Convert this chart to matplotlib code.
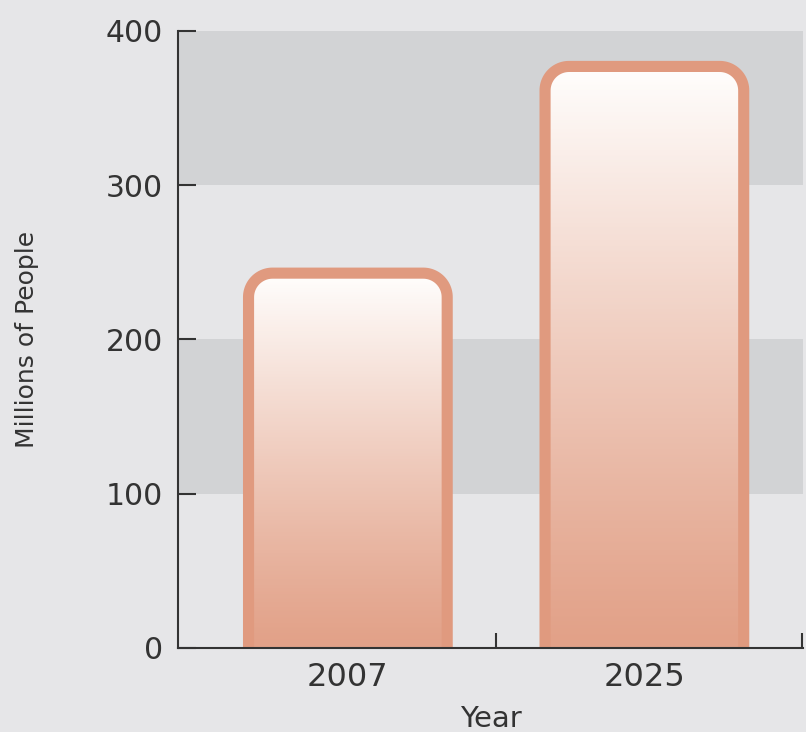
import numpy as np
import matplotlib
matplotlib.use('Agg')
import matplotlib.pyplot as plt
from matplotlib.path import Path
from matplotlib.patches import PathPatch
from matplotlib.colors import LinearSegmentedColormap

# data
years = ['2007', '2025']
people = [243, 377]  # millions of people
y_ticks = [0, 100, 200, 300, 400]
band_ranges = [(100, 200), (300, 400)]

# colours
bg = '#e6e6e8'
band = '#d2d3d5'
edge = '#e09a7f'
top_col = '#fffefd'
bottom_col = '#e2a188'
axis_col = '#333333'


def bar_path(xc, w, h, rx, ry):
    # bar outline with rounded top corners, open at the bottom
    x0, x1 = xc - w / 2, xc + w / 2
    t = np.linspace(0, np.pi / 2, 24)
    left = [(x0 + rx - rx * np.cos(a), h - ry + ry * np.sin(a)) for a in t]
    right = [(x1 - rx + rx * np.sin(a), h - ry + ry * np.cos(a)) for a in t]
    return [(x0, 0)] + left + right + [(x1, 0)]


fig = plt.figure(figsize=(8.06, 7.32), dpi=100, facecolor=bg)
ax = fig.add_axes([0.2208, 0.1148, 0.7755, 0.8429])
ax.set_facecolor(bg)

# alternating grey bands
for lo, hi in band_ranges:
    ax.axhspan(lo, hi, color=band, lw=0, zorder=0)

ax.set_xlim(-0.573, 1.535)
ax.set_ylim(0, 400)

# pixel size of one data unit, for round corners that look circular
p0 = ax.transData.transform((0, 0))
p1 = ax.transData.transform((1, 1))
px_x = p1[0] - p0[0]
px_y = p1[1] - p0[1]
radius = 24
rx, ry = radius / px_x, radius / px_y
bar_w = 0.67

# vertical gradient, white at top to salmon at bottom
cmap = LinearSegmentedColormap.from_list('bar', [bottom_col, top_col])
grad = (np.linspace(0, 1, 256) ** 1.15).reshape(-1, 1)

for i, val in enumerate(people):
    verts = bar_path(i, bar_w, val, rx, ry)
    closed = Path(verts + [verts[0]])
    fill = PathPatch(closed, facecolor='none', edgecolor='none')
    ax.add_patch(fill)
    img = ax.imshow(grad, cmap=cmap, origin='lower', aspect='auto',
                    extent=[i - bar_w / 2, i + bar_w / 2, 0, val], zorder=1)
    img.set_clip_path(fill)
    outline = PathPatch(Path(verts), facecolor='none', edgecolor=edge,
                        lw=8, joinstyle='round', zorder=2)
    ax.add_patch(outline)

ax.set_xlim(-0.573, 1.535)
ax.set_ylim(0, 400)

# axes styling
for s in ['top', 'right']:
    ax.spines[s].set_visible(False)
for s in ['left', 'bottom']:
    ax.spines[s].set_color(axis_col)
    ax.spines[s].set_linewidth(1.5)
    ax.spines[s].set_zorder(3)

ax.set_yticks(y_ticks)
ax.tick_params(axis='y', direction='in', length=13, width=1.5, pad=11,
               labelsize=21.5, color=axis_col, labelcolor=axis_col)
ax.set_xticks([0, 1], years)
ax.set_xticks([0.5, 1.533], minor=True)
ax.tick_params(axis='x', which='major', length=0, pad=10, labelsize=23,
               labelcolor=axis_col)
ax.tick_params(axis='x', which='minor', direction='in', length=11, width=1.5,
               color=axis_col)

ax.set_xlabel('Year', fontsize=21, color=axis_col, labelpad=9)
ax.set_ylabel('Millions of People', fontsize=18, color=axis_col)
ax.yaxis.set_label_coords(-0.222, 0.5)

plt.savefig('out.png', dpi=100, facecolor=bg)
